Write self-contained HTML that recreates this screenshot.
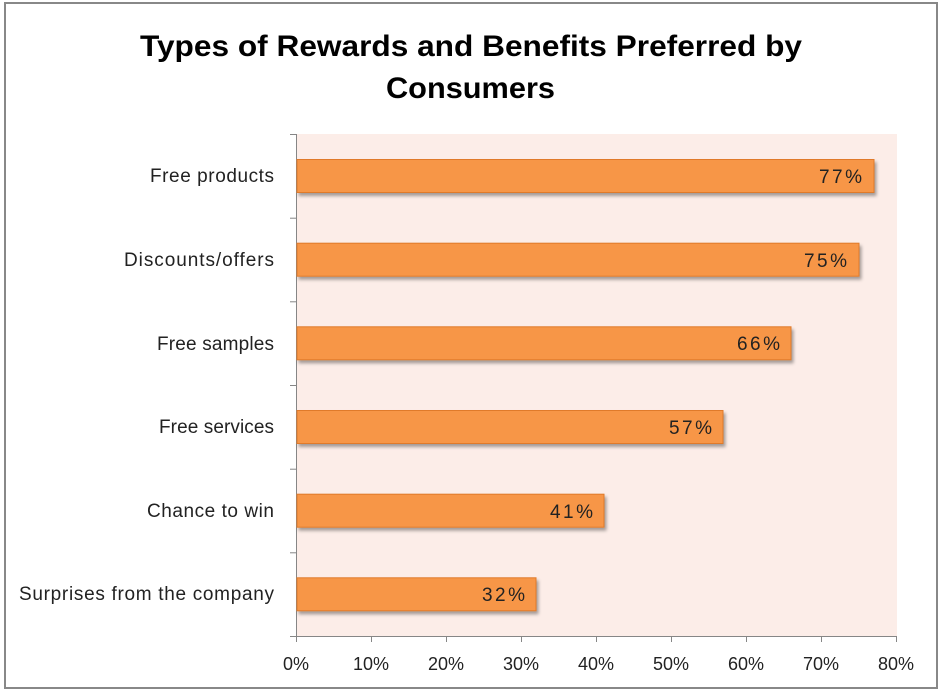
<!DOCTYPE html>
<html><head><style>
body{margin:0;background:#fff;}
svg{display:block;font-family:"Liberation Sans",sans-serif;}
</style></head><body>
<svg width="941" height="693" viewBox="0 0 941 693" xmlns="http://www.w3.org/2000/svg">
<defs><filter id="sh" x="-5%" y="-20%" width="110%" height="150%"><feDropShadow dx="2" dy="3" stdDeviation="1.5" flood-color="#000" flood-opacity="0.35"/></filter></defs>
<rect x="5" y="3" width="932" height="685" fill="#fff" stroke="#888" stroke-width="2"/>
<text x="140" y="56" font-size="30" font-weight="bold" fill="#000" textLength="662" lengthAdjust="spacingAndGlyphs">Types of Rewards and Benefits Preferred by</text>
<text x="386" y="98" font-size="30" font-weight="bold" fill="#000" textLength="169" lengthAdjust="spacingAndGlyphs">Consumers</text>
<rect x="297" y="134" width="600" height="502" fill="#fcede8"/>
<g stroke="#868686" stroke-width="1">
<line x1="296.5" y1="134" x2="296.5" y2="636"/>
<line x1="290" y1="134.5" x2="296" y2="134.5"/>
<line x1="290" y1="218.2" x2="296" y2="218.2"/>
<line x1="290" y1="301.8" x2="296" y2="301.8"/>
<line x1="290" y1="385.5" x2="296" y2="385.5"/>
<line x1="290" y1="469.2" x2="296" y2="469.2"/>
<line x1="290" y1="552.8" x2="296" y2="552.8"/>
<line x1="290" y1="636.5" x2="296" y2="636.5"/>
<line x1="296" y1="636.5" x2="897" y2="636.5"/>
<line x1="296.5" y1="636" x2="296.5" y2="642"/>
<line x1="371.5" y1="636" x2="371.5" y2="642"/>
<line x1="446.5" y1="636" x2="446.5" y2="642"/>
<line x1="521.5" y1="636" x2="521.5" y2="642"/>
<line x1="596.5" y1="636" x2="596.5" y2="642"/>
<line x1="671.5" y1="636" x2="671.5" y2="642"/>
<line x1="746.5" y1="636" x2="746.5" y2="642"/>
<line x1="821.5" y1="636" x2="821.5" y2="642"/>
<line x1="896.5" y1="636" x2="896.5" y2="642"/>
</g>
<g fill="#f79646" stroke="#e07a2a" stroke-width="1" filter="url(#sh)">
<rect x="297" y="159.5" width="577" height="33"/>
<rect x="297" y="243.2" width="562" height="33"/>
<rect x="297" y="326.8" width="494" height="33"/>
<rect x="297" y="410.5" width="426" height="33"/>
<rect x="297" y="494.2" width="307" height="33"/>
<rect x="297" y="577.8" width="239" height="33"/>
</g>
<g font-size="19" fill="#222" lengthAdjust="spacingAndGlyphs">
<text x="150" y="182" textLength="124">Free products</text>
<text x="124" y="266" textLength="150">Discounts/offers</text>
<text x="157" y="350" textLength="117">Free samples</text>
<text x="159" y="433" textLength="115">Free services</text>
<text x="147" y="517" textLength="127">Chance to win</text>
<text x="19" y="600" textLength="255">Surprises from the company</text>
<text x="819" y="183" textLength="43">77%</text>
<text x="804" y="267" textLength="43">75%</text>
<text x="737" y="350" textLength="43">66%</text>
<text x="669" y="434" textLength="43">57%</text>
<text x="550" y="518" textLength="43">41%</text>
<text x="482" y="601" textLength="43">32%</text>
</g>
<g font-size="18" fill="#222" text-anchor="middle">
<text x="296" y="670">0%</text>
<text x="371" y="670">10%</text>
<text x="446" y="670">20%</text>
<text x="521" y="670">30%</text>
<text x="596" y="670">40%</text>
<text x="671" y="670">50%</text>
<text x="746" y="670">60%</text>
<text x="821" y="670">70%</text>
<text x="896" y="670">80%</text>
</g>
</svg>
</body></html>
